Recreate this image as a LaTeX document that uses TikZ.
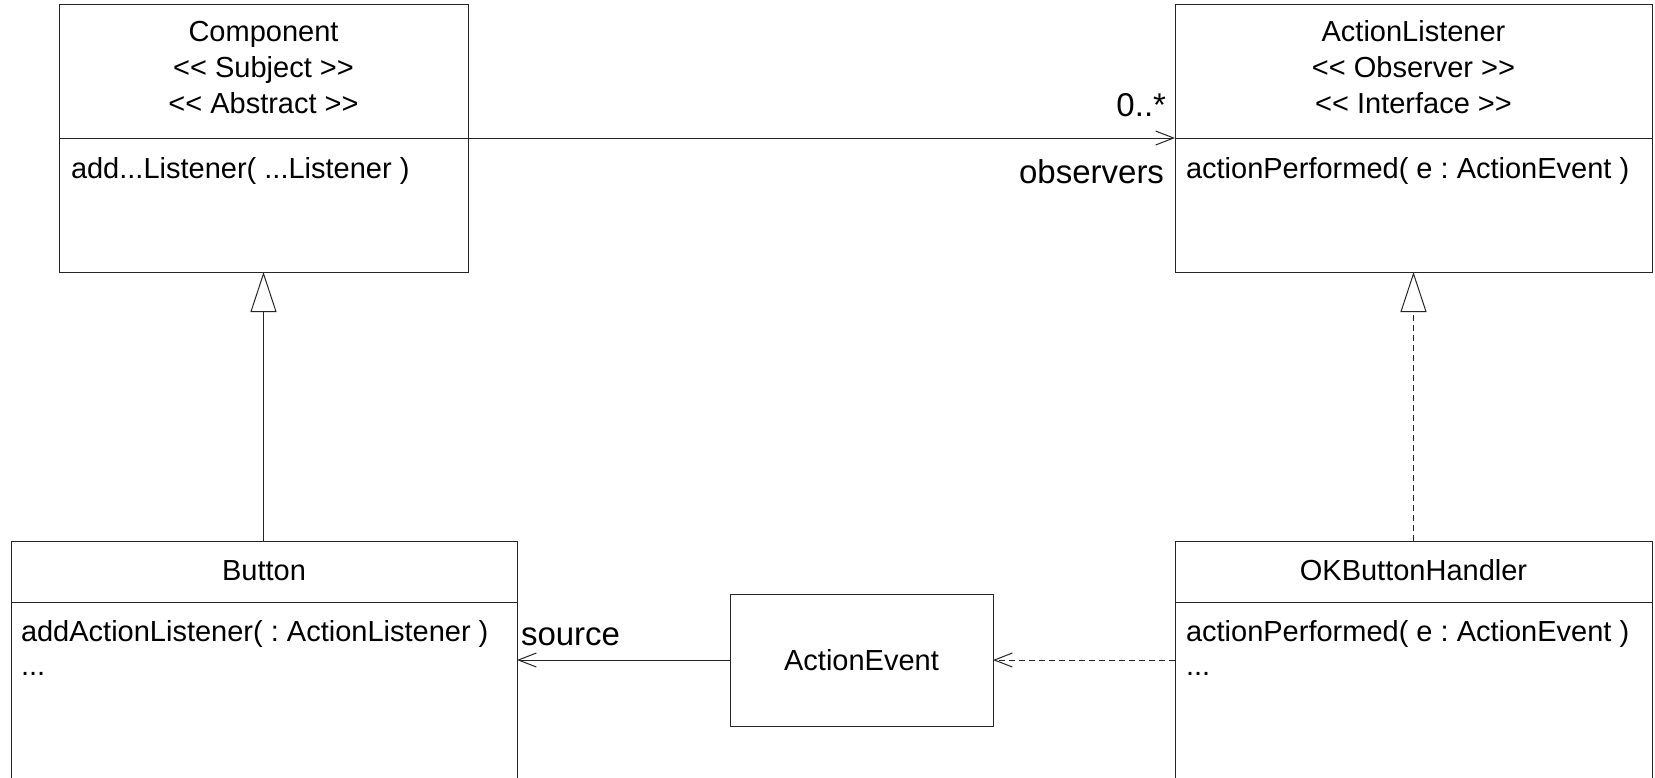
\documentclass[tikz,border=0pt]{standalone}
\usepackage{fontspec}
\setmainfont{Liberation Sans}
\usetikzlibrary{arrows.meta}
\newcommand{\stopen}{<\kern0pt<}
\newcommand{\stclose}{>\kern0pt>}
\frenchspacing
\begin{document}
\begin{tikzpicture}[x=1pt,y=-1pt,
  box/.style={draw=black!85,line width=1pt,inner sep=0pt,outer sep=0pt,anchor=north west,rectangle},
  txt/.style={inner sep=0pt,outer sep=0pt,font=\fontsize{29}{36}\selectfont},
  lbl/.style={inner sep=0pt,outer sep=0pt,font=\fontsize{33}{40}\selectfont},
  conn/.style={line width=1pt,draw=black!85},
  barb/.style={-{Straight Barb[length=18pt,width=14pt]}},
  inh/.style={-{Triangle[open,length=40pt,width=26pt,fill=white]}},
  dashedline/.style={dash pattern=on 6pt off 4pt}
]
\useasboundingbox (0,0) rectangle (1655,777);
\clip (0,0) rectangle (1655,777);
\fill[white] (0,0) rectangle (1655,777);

% Component
\node[box,minimum width=409pt,minimum height=268pt] (comp) at (59,4) {};
\draw[conn] (59,138) -- (468,138);
\node[txt,anchor=base] (comp1) at (263.5,41.5) {Component};
\node[txt,anchor=base] (comp2) at (263.5,77.5) {\stopen{} Subject \stclose};
\node[txt,anchor=base] (comp3) at (263.5,113.5) {\stopen{} Abstract \stclose};
\node[txt,anchor=base west] (comp4) at (71,178.5) {add...Listener( ...Listener )};

% ActionListener
\node[box,minimum width=477pt,minimum height=268pt] (al) at (1175,4) {};
\draw[conn] (1175,138) -- (1652,138);
\node[txt,anchor=base] (al1) at (1413.5,41.5) {ActionListener};
\node[txt,anchor=base] (al2) at (1413.5,77.5) {\stopen{} Observer \stclose};
\node[txt,anchor=base] (al3) at (1413.5,113.5) {\stopen{} Interface \stclose};
\node[txt,anchor=base west] (al4) at (1186,178.5) {actionPerformed( e : ActionEvent )};

% Button
\node[box,minimum width=506pt,minimum height=260pt] (btn) at (11,541) {};
\draw[conn] (11,602) -- (517,602);
\node[txt,anchor=base] (btn1) at (264,580) {Button};
\node[txt,anchor=base west] (btn2) at (21,641) {addActionListener( : ActionListener )};
\node[txt,anchor=base west] (btn3) at (21,675) {...};

% OKButtonHandler
\node[box,minimum width=477pt,minimum height=260pt] (okh) at (1175,541) {};
\draw[conn] (1175,602) -- (1652,602);
\node[txt,anchor=base] (okh1) at (1413.5,580) {OKButtonHandler};
\node[txt,anchor=base west] (okh2) at (1186,641) {actionPerformed( e : ActionEvent )};
\node[txt,anchor=base west] (okh3) at (1186,675) {...};

% ActionEvent
\node[box,minimum width=263pt,minimum height=132pt] (ae) at (730,594) {};
\node[txt,anchor=base] (ae1) at (861.5,670) {ActionEvent};

% connectors
\draw[conn,barb] (comp.east) -- (al.west);
\node[lbl,anchor=base east] (mult) at (1166,116) {0..*};
\node[lbl,anchor=base east] (role1) at (1164,183) {observers};

\draw[conn,inh] (btn.north -| comp.south) -- (comp.south);
\draw[conn,dashedline,inh] (okh.north) -- (al.south);

\draw[conn,barb] (ae.west) -- (ae.west -| btn.east);
\node[lbl,anchor=base west] (role2) at (521,645) {source};

\draw[conn,dashedline,barb] (ae.east -| okh.west) -- (ae.east);
\end{tikzpicture}
\end{document}
